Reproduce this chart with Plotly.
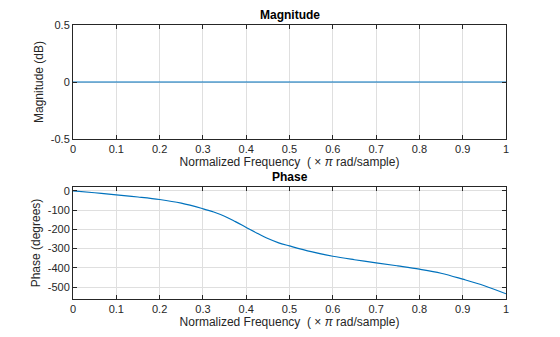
import plotly.graph_objects as go

freq = [0, 0.05, 0.1, 0.15, 0.2, 0.25, 0.3, 0.325, 0.35, 0.375, 0.4, 0.425, 0.45, 0.475,
        0.5, 0.55, 0.6, 0.65, 0.7, 0.75, 0.8, 0.85, 0.9, 0.95, 1.0]
phase_deg = [0, -10, -21, -32, -45, -64, -93, -110, -132, -160, -190, -220, -248, -270,
             -286, -316, -340, -358, -374, -390, -407, -428, -459, -493, -535]
mag_db = [0 for _ in freq]

x_ticks = [0, 0.1, 0.2, 0.3, 0.4, 0.5, 0.6, 0.7, 0.8, 0.9, 1]
x_ticklabels = ["0", "0.1", "0.2", "0.3", "0.4", "0.5", "0.6", "0.7", "0.8", "0.9", "1"]
mag_ticks = [-0.5, 0, 0.5]
mag_ticklabels = ["-0.5", "0", "0.5"]
phase_ticks = [0, -100, -200, -300, -400, -500]
phase_ticklabels = ["0", "-100", "-200", "-300", "-400", "-500"]

LINE = "#0072BD"
AX = "#262626"
GRID = "#DFDFDF"
FONT = "Liberation Sans, Arial, sans-serif"

fig = go.Figure()
fig.add_trace(go.Scatter(x=freq, y=mag_db, mode="lines", line=dict(color=LINE, width=1.2),
                         xaxis="x", yaxis="y", showlegend=False))
fig.add_trace(go.Scatter(x=freq, y=phase_deg, mode="lines", line=dict(color=LINE, width=1.2, shape="spline"),
                         xaxis="x2", yaxis="y2", showlegend=False))

xdom = [73 / 560, 506 / 560]
common_axis = dict(showline=True, linecolor=AX, linewidth=1, mirror="ticks", ticks="inside",
                   ticklen=4, tickcolor=AX, showgrid=True, gridcolor=GRID, gridwidth=1,
                   zeroline=False, automargin=False, tickfont=dict(family=FONT, size=11, color=AX))
xtitle = "Normalized Frequency  ( × <i>π</i> rad/sample)"

fig.update_layout(
    template="none",
    width=560, height=337,
    margin=dict(l=0, r=0, t=0, b=0),
    paper_bgcolor="white", plot_bgcolor="white",
    font=dict(family=FONT, size=12, color=AX),
    xaxis=dict(domain=xdom, anchor="y", range=[0, 1], tickvals=x_ticks, ticktext=x_ticklabels,
               title=dict(text=xtitle, standoff=0, font=dict(size=12)), **common_axis),
    yaxis=dict(domain=[1 - 139 / 337, 1 - 25 / 337], anchor="x", range=[-0.5, 0.5],
               tickvals=mag_ticks, ticktext=mag_ticklabels,
               title=dict(text="Magnitude (dB)", standoff=4, font=dict(size=12)), **common_axis),
    xaxis2=dict(domain=xdom, anchor="y2", range=[0, 1], tickvals=x_ticks, ticktext=x_ticklabels,
                title=dict(text=xtitle, standoff=0, font=dict(size=12)), **common_axis),
    yaxis2=dict(domain=[1 - 299 / 337, 1 - 187 / 337], anchor="x2", range=[-562, 20],
                tickvals=phase_ticks, ticktext=phase_ticklabels,
                title=dict(text="Phase (degrees)", standoff=4, font=dict(size=12)), **common_axis),
    annotations=[
        dict(text="<b>Magnitude</b>", x=(xdom[0] + xdom[1]) / 2, y=1 - 25 / 337, xref="paper", yref="paper",
             xanchor="center", yanchor="bottom", yshift=1, showarrow=False, font=dict(size=12, color="black")),
        dict(text="<b>Phase</b>", x=(xdom[0] + xdom[1]) / 2, y=1 - 187 / 337, xref="paper", yref="paper",
             xanchor="center", yanchor="bottom", yshift=1, showarrow=False, font=dict(size=12, color="black")),
    ],
)

fig.write_html("out.html")
